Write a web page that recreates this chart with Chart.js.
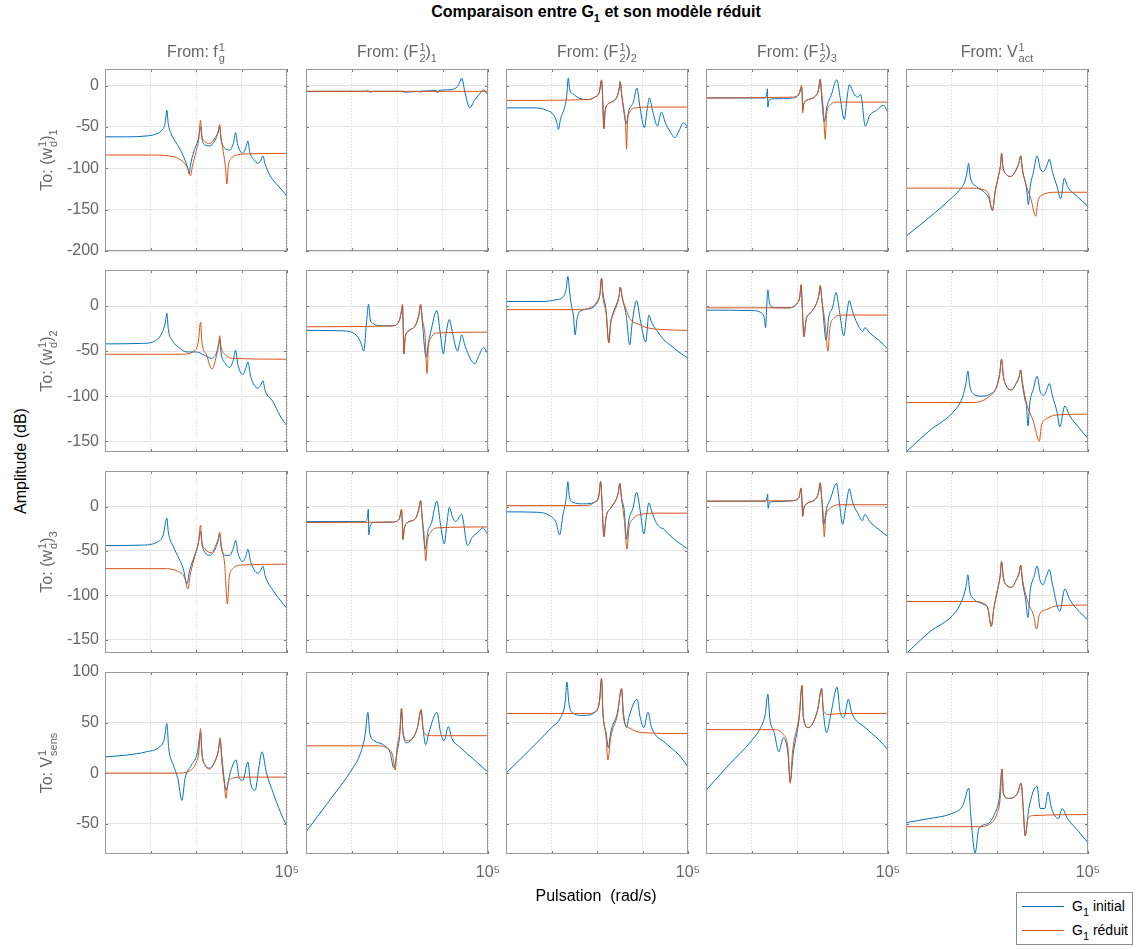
<!DOCTYPE html>
<html>
<head>
<meta charset="utf-8">
<script src="https://cdn.jsdelivr.net/npm/chart.js@4.4.0/dist/chart.umd.min.js"></script>
<style>
body{margin:0;background:#fff;width:1139px;height:949px;position:relative;overflow:hidden;font-family:"Liberation Sans",Arial,Helvetica,sans-serif;}
canvas{position:absolute}
.txt{position:absolute;white-space:nowrap;font-size:16px;line-height:20px;color:#666}
.ss{display:inline-block;vertical-align:-5px;font-size:11px;line-height:11px;text-align:left;margin-left:1px}
.ss span{display:block}
sub{font-size:11px;vertical-align:-5px;line-height:0}
.leg{position:absolute;left:1016px;top:892px;width:115px;height:51px;border:1px solid #8c8c8c;background:#fff}
.legrow{position:absolute;left:0;font-size:14px;line-height:18px;color:#000}
.legline{position:absolute;left:5px;width:42px;height:0;border-top:1px solid}
</style>
</head>
<body>
<div id="root"></div>
<script>
// ---- labels ----
const fromLabels = [
  'From: f<span class="ss"><span>1</span><span>g</span></span>',
  'From: (F<span class="ss"><span>1</span><span>2</span></span>)<sub>1</sub>',
  'From: (F<span class="ss"><span>1</span><span>2</span></span>)<sub>2</sub>',
  'From: (F<span class="ss"><span>1</span><span>2</span></span>)<sub>3</sub>',
  'From: V<span class="ss"><span>1</span><span>act</span></span>'
];
const toLabels = [
  'To: (w<span class="ss"><span>1</span><span>d</span></span>)<sub>1</sub>',
  'To: (w<span class="ss"><span>1</span><span>d</span></span>)<sub>2</sub>',
  'To: (w<span class="ss"><span>1</span><span>d</span></span>)<sub>3</sub>',
  'To: V<span class="ss"><span>1</span><span>sens</span></span>'
];
const yMin = [-200, -162, -165, -80];
const yMax = [20, 40, 40, 100];
const yStep = 50;
const xTicks = [1e1, 1e2, 1e3, 1e4, 1e5];
const xTickLabels = {100000: '10\u2075'};

// ---- data: [log10(w), dB] ----
// row 1 : (w_d^1)_1
const ini_r1c1 = [[1,-62],[1.5,-62],[1.9,-61],[2.1,-59],[2.25,-54],[2.32,-46],[2.36,-30],[2.39,-46],[2.45,-58],[2.55,-68],[2.65,-77],[2.75,-89],[2.82,-100],[2.85,-107],[2.88,-96],[2.95,-80],[3.02,-70],[3.06,-62],[3.10,-50],[3.13,-64],[3.2,-72],[3.3,-73],[3.42,-66],[3.49,-56],[3.52,-50],[3.55,-65],[3.62,-75],[3.74,-78],[3.82,-70],[3.87,-57],[3.91,-70],[4.03,-82],[4.1,-74],[4.14,-67],[4.18,-80],[4.28,-90],[4.36,-94],[4.42,-91],[4.47,-85],[4.52,-95],[4.62,-108],[4.75,-118],[4.9,-127],[5,-134]];
const red_r1c1 = [[1,-84],[2,-84],[2.4,-85],[2.6,-88],[2.75,-94],[2.84,-103],[2.88,-109],[2.92,-98],[3.0,-80],[3.06,-65],[3.10,-42],[3.13,-60],[3.2,-68],[3.3,-70],[3.42,-63],[3.49,-55],[3.52,-47],[3.55,-63],[3.6,-80],[3.65,-100],[3.68,-119],[3.71,-98],[3.78,-88],[3.9,-84],[4.2,-82.5],[5,-82]];
const ini_r1c2 = [[1,-7],[2.3,-7],[2.37,-6],[2.4,-8],[2.5,-7],[3.1,-7],[3.12,-6.5],[3.14,-8],[3.5,-7],[3.87,-6],[3.89,-9],[3.92,-6],[4.18,-5],[4.33,-1],[4.38,4],[4.42,9],[4.5,-10],[4.6,-27],[4.7,-18],[4.82,-10],[4.9,-5],[5,-12]];
const red_r1c2 = [[1,-7],[3.5,-7],[3.52,-8.5],[3.54,-7],[5,-7]];
const ini_r1c3 = [[1,-27],[1.6,-27],[1.9,-30],[2.05,-36],[2.12,-45],[2.15,-53],[2.2,-40],[2.28,-28],[2.33,-15],[2.37,9],[2.4,-5],[2.47,-10],[2.6,-15],[2.8,-17],[2.95,-14],[3.05,-8],[3.10,6],[3.12,-10],[3.15,-52],[3.18,-30],[3.25,-22],[3.38,-18],[3.45,-12],[3.49,-3],[3.51,4],[3.55,-15],[3.6,-35],[3.64,-46],[3.7,-30],[3.8,-20],[3.875,-3],[3.95,-28],[4.04,-51],[4.1,-30],[4.15,-15],[4.22,-30],[4.33,-49],[4.38,-38],[4.42,-32],[4.5,-45],[4.6,-55],[4.71,-63],[4.8,-55],[4.9,-45],[5,-51]];
const red_r1c3 = [[1,-18],[2.8,-17],[2.95,-14],[3.05,-8],[3.10,7],[3.12,-10],[3.15,-52],[3.18,-30],[3.25,-22],[3.38,-18],[3.45,-12],[3.49,-3],[3.51,5],[3.54,-10],[3.59,-28],[3.63,-48],[3.65,-77],[3.67,-45],[3.72,-32],[3.85,-27],[4.2,-26],[5,-26]];
const ini_r1c4 = [[1,-15],[2.3,-15],[2.34,-8],[2.35,-4],[2.36,-26],[2.38,-18],[2.5,-16],[2.9,-15],[3.05,-10],[3.10,-2],[3.115,-12],[3.125,-30],[3.15,-22],[3.25,-17],[3.4,-13],[3.47,-6],[3.51,7],[3.55,-20],[3.60,-44],[3.66,-25],[3.75,-12],[3.875,7],[3.95,-15],[4.04,-41],[4.1,-15],[4.15,1],[4.25,-10],[4.33,-14],[4.40,-11],[4.50,-49],[4.6,-36],[4.75,-30],[4.9,-24],[5,-33]];
const red_r1c4 = [[1,-15],[2.9,-14],[3.05,-9],[3.10,0],[3.115,-12],[3.125,-33],[3.15,-22],[3.25,-17],[3.4,-13],[3.47,-6],[3.51,8],[3.54,-8],[3.58,-30],[3.62,-65],[3.65,-35],[3.72,-24],[3.9,-20],[5,-20]];
const ini_r1c5 = [[1,-182],[1.5,-160],[2.0,-136],[2.18,-126],[2.3,-115],[2.35,-102],[2.375,-94],[2.41,-110],[2.55,-122],[2.7,-128],[2.82,-136],[2.9,-151],[2.96,-128],[3.03,-110],[3.08,-95],[3.10,-82],[3.13,-98],[3.2,-107],[3.3,-110],[3.42,-102],[3.49,-92],[3.52,-85],[3.56,-102],[3.65,-125],[3.69,-144],[3.73,-122],[3.8,-105],[3.88,-85],[3.95,-100],[4.02,-104],[4.1,-96],[4.15,-89],[4.22,-105],[4.32,-122],[4.40,-137],[4.48,-112],[4.55,-122],[4.76,-134],[5,-146]];
const red_r1c5 = [[1,-124],[2.4,-124],[2.7,-126],[2.82,-132],[2.9,-151],[2.96,-128],[3.03,-110],[3.08,-95],[3.10,-82],[3.13,-98],[3.2,-107],[3.3,-110],[3.42,-102],[3.49,-92],[3.52,-85],[3.56,-102],[3.65,-122],[3.75,-138],[3.85,-158],[3.9,-140],[4.0,-132],[4.3,-129],[5,-129]];
// row 2 : (w_d^1)_2
const ini_r2c1 = [[1,-42],[1.8,-41.5],[2.13,-38],[2.25,-30],[2.32,-20],[2.36,-8],[2.39,-25],[2.49,-39],[2.65,-47],[2.79,-51],[3.01,-51],[3.2,-55],[3.34,-58],[3.45,-52],[3.50,-42],[3.52,-37],[3.55,-52],[3.65,-64],[3.74,-68],[3.82,-60],[3.87,-49],[3.92,-65],[4.03,-76],[4.1,-68],[4.14,-62],[4.2,-78],[4.36,-91],[4.42,-88],[4.47,-83],[4.52,-94],[4.69,-106],[4.85,-122],[5,-133]];
const red_r2c1 = [[1,-53.5],[2.7,-53.5],[2.95,-50],[3.05,-40],[3.10,-18],[3.13,-40],[3.23,-54],[3.35,-70],[3.45,-55],[3.50,-42],[3.52,-33],[3.55,-45],[3.67,-55],[3.8,-58],[5,-59]];
const ini_r2c2 = [[1,-27],[1.8,-27.5],[2.1,-32],[2.2,-40],[2.27,-50],[2.32,-25],[2.375,2],[2.41,-14],[2.46,-19],[2.7,-22],[2.9,-22],[3.05,-16],[3.1,-5],[3.12,1],[3.135,-20],[3.15,-53],[3.18,-35],[3.23,-29],[3.41,-21],[3.48,-10],[3.52,1],[3.56,-20],[3.64,-57],[3.7,-38],[3.74,-29],[3.875,-5],[3.95,-30],[4.02,-53],[4.08,-30],[4.15,-15],[4.22,-30],[4.33,-50],[4.38,-40],[4.42,-32],[4.5,-45],[4.71,-64],[4.8,-55],[4.9,-46],[5,-53]];
const red_r2c2 = [[1,-23],[2.9,-22],[3.05,-16],[3.1,-5],[3.12,2],[3.135,-20],[3.15,-53],[3.18,-35],[3.23,-29],[3.41,-21],[3.48,-10],[3.52,2],[3.56,-15],[3.62,-35],[3.66,-75],[3.69,-45],[3.74,-36],[3.85,-30],[5,-29]];
const ini_r2c3 = [[1,5],[1.8,5],[2.1,7],[2.25,10],[2.32,18],[2.36,33],[2.39,20],[2.43,3],[2.48,-10],[2.52,-32],[2.56,-15],[2.62,-6],[2.84,-3],[2.98,2],[3.06,12],[3.10,31],[3.13,15],[3.2,-5],[3.26,-41],[3.3,-18],[3.35,-8],[3.45,5],[3.49,13],[3.51,21],[3.56,8],[3.64,-10],[3.72,-43],[3.77,-20],[3.87,6],[3.95,-15],[4.07,-40],[4.14,-10],[4.2,-18],[4.31,-27],[4.4,-33],[4.46,-37],[4.6,-43],[4.8,-51],[5,-58]];
const red_r2c3 = [[1,-4],[2.6,-4],[2.84,-2],[3.0,5],[3.07,15],[3.10,31],[3.13,10],[3.2,-8],[3.26,-41],[3.3,-20],[3.35,-10],[3.45,3],[3.49,12],[3.51,21],[3.56,8],[3.65,-5],[3.72,-14],[3.9,-20],[4.1,-24],[4.4,-26],[5,-27]];
const ini_r2c4 = [[1,-4.5],[2.0,-5],[2.2,-7],[2.28,-13],[2.31,-24],[2.335,0],[2.36,18],[2.39,5],[2.45,-1],[2.6,-2],[2.8,-2],[3.0,3],[3.06,10],[3.09,23],[3.12,-5],[3.15,-34],[3.2,-15],[3.29,-8],[3.42,2],[3.48,12],[3.51,22],[3.56,0],[3.64,-38],[3.7,-12],[3.78,-2],[3.86,15],[3.93,-5],[4.03,-33],[4.09,-10],[4.15,6],[4.22,-6],[4.32,-19],[4.45,-28],[4.49,-24],[4.6,-30],[4.8,-38],[5,-48]];
const red_r2c4 = [[1,-2],[2.8,-2],[3.0,3],[3.06,10],[3.09,24],[3.12,-5],[3.15,-34],[3.2,-15],[3.29,-8],[3.42,2],[3.48,12],[3.51,23],[3.55,5],[3.62,-20],[3.68,-50],[3.72,-25],[3.8,-14],[4.0,-10],[5,-10]];
const ini_r2c5 = [[1,-162],[1.5,-139],[2.10,-114],[2.25,-100],[2.32,-85],[2.36,-72],[2.4,-88],[2.47,-97],[2.65,-100],[2.84,-98],[2.99,-90],[3.06,-75],[3.10,-59],[3.14,-78],[3.22,-90],[3.32,-93],[3.42,-86],[3.49,-78],[3.52,-71],[3.56,-88],[3.62,-105],[3.65,-112],[3.68,-133],[3.72,-108],[3.8,-92],[3.88,-78],[3.95,-95],[4.03,-99],[4.1,-92],[4.15,-86],[4.22,-100],[4.32,-118],[4.38,-134],[4.49,-111],[4.6,-122],[4.8,-135],[5,-147]];
const red_r2c5 = [[1,-107],[2.5,-107],[2.84,-100],[2.99,-90],[3.06,-75],[3.10,-59],[3.14,-78],[3.22,-90],[3.32,-93],[3.42,-86],[3.49,-78],[3.52,-71],[3.56,-85],[3.65,-108],[3.8,-128],[3.93,-150],[3.98,-132],[4.09,-125],[4.3,-121],[5,-120]];
// row 3 : (w_d^1)_3
const ini_r3c1 = [[1,-44],[1.8,-43.5],[2.15,-40],[2.28,-32],[2.36,-13],[2.39,-28],[2.5,-45],[2.62,-58],[2.72,-70],[2.80,-87],[2.86,-72],[2.95,-58],[3.05,-42],[3.10,-28],[3.13,-42],[3.2,-52],[3.3,-55],[3.42,-48],[3.49,-38],[3.52,-31],[3.55,-45],[3.65,-55],[3.74,-55],[3.82,-47],[3.87,-38],[3.92,-52],[4.03,-62],[4.1,-55],[4.14,-48],[4.2,-62],[4.36,-75],[4.42,-72],[4.47,-67],[4.52,-78],[4.7,-95],[5,-115]];
const red_r3c1 = [[1,-70],[2.3,-70],[2.6,-73],[2.75,-80],[2.82,-93],[2.88,-75],[2.98,-55],[3.06,-38],[3.10,-21],[3.13,-40],[3.2,-48],[3.34,-52],[3.44,-43],[3.49,-36],[3.52,-29],[3.56,-45],[3.63,-65],[3.69,-110],[3.73,-80],[3.81,-70],[4.0,-66],[5,-65]];
const ini_r3c2 = [[1,-17],[2.3,-17],[2.35,-12],[2.37,-3],[2.38,-32],[2.41,-22],[2.5,-18],[2.9,-17.5],[3.05,-14],[3.10,-4],[3.115,-15],[3.13,-37],[3.16,-25],[3.23,-18],[3.4,-14],[3.47,-5],[3.52,6],[3.56,-18],[3.62,-48],[3.68,-28],[3.76,-18],[3.875,6],[3.95,-18],[4.04,-42],[4.1,-18],[4.15,-1],[4.22,-12],[4.29,-17],[4.42,-9],[4.55,-44],[4.65,-35],[4.8,-28],[4.88,-24],[5,-32]];
const red_r3c2 = [[1,-18],[2.9,-17.5],[3.05,-14],[3.10,-3],[3.115,-15],[3.13,-37],[3.16,-25],[3.23,-18],[3.4,-14],[3.47,-5],[3.52,7],[3.55,-10],[3.6,-35],[3.63,-61],[3.67,-38],[3.74,-29],[3.9,-24],[5,-23]];
const ini_r3c3 = [[1,-6],[1.7,-6.5],[1.95,-10],[2.1,-18],[2.18,-32],[2.25,-10],[2.32,8],[2.36,28],[2.39,12],[2.46,5],[2.7,3],[2.95,5],[3.04,12],[3.08,28],[3.11,5],[3.15,-34],[3.2,-12],[3.3,-2],[3.42,8],[3.47,16],[3.50,26],[3.54,10],[3.6,-5],[3.65,-37],[3.7,-15],[3.79,-2],[3.87,16],[3.95,-5],[4.03,-31],[4.09,-10],[4.14,4],[4.2,-5],[4.31,-19],[4.4,-24],[4.46,-25],[4.55,-30],[4.75,-39],[5,-48]];
const red_r3c3 = [[1,1],[2.7,1],[2.95,5],[3.04,12],[3.08,28],[3.11,5],[3.15,-34],[3.2,-12],[3.3,-2],[3.42,8],[3.47,16],[3.50,26],[3.54,8],[3.6,-15],[3.66,-48],[3.7,-25],[3.79,-14],[3.95,-9],[4.3,-7.5],[5,-7.5]];
const ini_r3c4 = [[1,6],[2.3,6],[2.34,10],[2.355,14],[2.365,-2],[2.39,4],[2.5,5.5],[2.9,6.5],[3.04,10],[3.09,20],[3.11,5],[3.125,-11],[3.15,-2],[3.21,3],[3.4,8],[3.47,15],[3.51,26],[3.55,5],[3.58,-21],[3.65,-2],[3.73,8],[3.87,26],[3.93,5],[4.00,-20],[4.08,2],[4.15,20],[4.22,5],[4.33,-7],[4.44,-16],[4.49,-9],[4.6,-17],[4.8,-26],[5,-34]];
const red_r3c4 = [[1,6],[2.9,6.5],[3.04,10],[3.09,21],[3.11,5],[3.125,-11],[3.15,-2],[3.21,3],[3.4,8],[3.47,15],[3.51,27],[3.54,10],[3.57,-5],[3.60,-34],[3.63,-12],[3.73,-2],[3.9,2],[5,2]];
const ini_r3c5 = [[1,-166],[1.5,-142],[2.10,-118],[2.25,-103],[2.32,-90],[2.36,-77],[2.4,-95],[2.47,-103],[2.69,-110],[2.8,-115],[2.875,-135],[2.93,-115],[3.02,-92],[3.07,-78],[3.10,-62],[3.14,-80],[3.22,-89],[3.32,-91],[3.42,-83],[3.49,-74],[3.52,-66],[3.56,-85],[3.63,-105],[3.68,-125],[3.73,-95],[3.82,-78],[3.88,-67],[3.95,-84],[4.01,-88],[4.09,-78],[4.15,-71],[4.22,-88],[4.38,-118],[4.49,-93],[4.6,-105],[4.8,-118],[5,-128]];
const red_r3c5 = [[1,-107],[2.5,-107],[2.7,-109],[2.8,-115],[2.875,-135],[2.93,-115],[3.02,-92],[3.07,-78],[3.10,-62],[3.14,-80],[3.22,-89],[3.32,-91],[3.42,-83],[3.49,-74],[3.52,-66],[3.56,-82],[3.68,-108],[3.8,-122],[3.87,-138],[3.93,-122],[4.09,-116],[4.3,-112],[5,-111]];
// row 4 : V_sens^1
const ini_r4c1 = [[1,16],[1.5,18],[1.9,21],[2.2,26],[2.3,33],[2.36,49],[2.4,25],[2.5,8],[2.6,-5],[2.69,-27],[2.76,-5],[2.9,8],[3.03,20],[3.10,40],[3.13,20],[3.2,8],[3.3,5],[3.42,12],[3.49,22],[3.53,33],[3.57,15],[3.63,-10],[3.66,-17],[3.75,0],[3.88,13],[3.95,-5],[4.03,-7],[4.14,11],[4.2,-10],[4.3,-17],[4.38,5],[4.45,21],[4.55,0],[4.7,-20],[4.85,-38],[5,-53]];
const red_r4c1 = [[1,0],[2.6,0],[2.85,2],[3.0,10],[3.06,20],[3.10,44],[3.13,20],[3.2,8],[3.3,4],[3.42,12],[3.49,22],[3.53,35],[3.57,10],[3.62,-10],[3.66,-25],[3.7,-10],[3.8,-5],[4.0,-4],[5,-4]];
const ini_r4c2 = [[1,-58],[1.5,-28],[2.0,3],[2.2,20],[2.3,38],[2.36,60],[2.4,40],[2.5,32],[2.7,28],[2.85,20],[2.93,5],[3.0,20],[3.06,38],[3.10,64],[3.13,40],[3.22,30],[3.35,35],[3.45,45],[3.53,62],[3.57,45],[3.63,28],[3.7,40],[3.88,60],[3.95,42],[4.03,32],[4.13,46],[4.2,35],[4.4,25],[4.7,13],[5,1]];
const red_r4c2 = [[1,27],[2.6,27],[2.8,24],[2.9,18],[2.96,3],[3.0,25],[3.06,40],[3.10,64],[3.13,42],[3.22,32],[3.35,35],[3.45,45],[3.53,63],[3.57,45],[3.63,38],[3.8,37],[5,37]];
const ini_r4c3 = [[1,0],[1.5,22],[2.0,45],[2.2,55],[2.3,70],[2.34,90],[2.38,70],[2.45,60],[2.7,57],[2.95,60],[3.05,70],[3.10,93],[3.13,60],[3.2,40],[3.25,25],[3.3,40],[3.45,60],[3.54,83],[3.58,60],[3.65,45],[3.7,55],[3.88,73],[3.95,55],[4.03,45],[4.12,60],[4.2,45],[4.5,30],[4.8,18],[5,6]];
const red_r4c3 = [[1,59],[2.8,59],[3.0,63],[3.06,72],[3.10,94],[3.13,60],[3.2,35],[3.24,13],[3.3,35],[3.45,58],[3.54,84],[3.58,55],[3.7,45],[4.0,40],[5,39]];
const ini_r4c4 = [[1,-17],[1.5,8],[2.0,32],[2.2,45],[2.3,58],[2.36,78],[2.4,55],[2.5,40],[2.6,21],[2.7,35],[2.8,20],[2.85,-8],[2.92,20],[3.05,55],[3.11,86],[3.14,55],[3.25,45],[3.45,62],[3.54,84],[3.58,60],[3.65,40],[3.75,60],[3.88,85],[3.95,60],[4.03,55],[4.13,73],[4.2,60],[4.5,45],[4.8,33],[5,23]];
const red_r4c4 = [[1,43],[2.5,43],[2.7,38],[2.8,25],[2.85,-10],[2.9,20],[3.05,58],[3.11,87],[3.14,55],[3.25,45],[3.45,62],[3.54,83],[3.58,62],[3.7,58],[4,59],[5,59]];
const ini_r4c5 = [[1,-49],[1.5,-45],[2.0,-40],[2.25,-32],[2.38,-15],[2.42,-40],[2.52,-79],[2.6,-55],[2.8,-50],[2.95,-40],[3.05,-25],[3.11,4],[3.14,-20],[3.25,-25],[3.45,-20],[3.53,-10],[3.57,-30],[3.62,-62],[3.7,-35],[3.88,-13],[3.95,-35],[4.05,-35],[4.12,-19],[4.2,-35],[4.35,-45],[4.43,-35],[4.55,-45],[4.8,-58],[5,-69]];
const red_r4c5 = [[1,-53],[2.6,-53],[2.85,-50],[3.0,-40],[3.07,-25],[3.11,4],[3.14,-20],[3.25,-25],[3.45,-20],[3.53,-10],[3.57,-30],[3.62,-62],[3.68,-45],[3.8,-42],[5,-41]];

const initial = [
  [ini_r1c1, ini_r1c2, ini_r1c3, ini_r1c4, ini_r1c5],
  [ini_r2c1, ini_r2c2, ini_r2c3, ini_r2c4, ini_r2c5],
  [ini_r3c1, ini_r3c2, ini_r3c3, ini_r3c4, ini_r3c5],
  [ini_r4c1, ini_r4c2, ini_r4c3, ini_r4c4, ini_r4c5]
];
const reduced = [
  [red_r1c1, red_r1c2, red_r1c3, red_r1c4, red_r1c5],
  [red_r2c1, red_r2c2, red_r2c3, red_r2c4, red_r2c5],
  [red_r3c1, red_r3c2, red_r3c3, red_r3c4, red_r3c5],
  [red_r4c1, red_r4c2, red_r4c3, red_r4c4, red_r4c5]
];

// ---- layout ----
const colLeft = [105, 306, 506, 706, 906];
const rowTop = [69, 270, 471, 672];
const PW = 182, PH = 182;
const PADL = 60, PADT = 20, PADR = 30, PADB = 30;
const BLUE = '#0072BD', ORANGE = '#D95319';
const GRAY = '#666';
const FONT = '"Liberation Sans", Arial, sans-serif';

const root = document.getElementById('root');

function addText(html, css) {
  const d = document.createElement('div');
  d.className = 'txt';
  d.innerHTML = html;
  Object.assign(d.style, css);
  root.appendChild(d);
  return d;
}

const toXY = pts => pts.map(p => ({x: Math.pow(10, p[0]), y: p[1]}));

// box + small inner ticks like matlab axes
const boxPlugin = {
  id: 'box',
  afterDraw(chart) {
    const {ctx, chartArea: a, scales} = chart;
    ctx.save();
    ctx.lineWidth = 1;
    ctx.strokeStyle = '#7a7a7a';
    ctx.beginPath();
    scales.y.ticks.forEach(t => {
      const y = Math.round(scales.y.getPixelForValue(t.value)) + 0.5;
      ctx.moveTo(a.left, y); ctx.lineTo(a.left + 3, y);
      ctx.moveTo(a.right, y); ctx.lineTo(a.right - 3, y);
    });
    scales.x.ticks.forEach(t => {
      const x = Math.round(scales.x.getPixelForValue(t.value)) + 0.5;
      ctx.moveTo(x, a.top); ctx.lineTo(x, a.top + 3);
      ctx.moveTo(x, a.bottom); ctx.lineTo(x, a.bottom - 3);
    });
    ctx.stroke();
    ctx.strokeStyle = '#9a9a9a';
    ctx.strokeRect(Math.round(a.left) + 0.5, Math.round(a.top) + 0.5, Math.round(a.width) - 1, Math.round(a.height) - 1);
    ctx.restore();
  }
};

function makePanel(r, c) {
  const cv = document.createElement('canvas');
  cv.width = PW + PADL + PADR;
  cv.height = PH + PADT + PADB;
  cv.style.left = (colLeft[c] - PADL) + 'px';
  cv.style.top = (rowTop[r] - PADT) + 'px';
  root.appendChild(cv);

  new Chart(cv, {
    type: 'line',
    data: {
      datasets: [
        {label: 'G1 réduit', data: toXY(reduced[r][c]), borderColor: ORANGE},
        {label: 'G1 initial', data: toXY(initial[r][c]), borderColor: BLUE}
      ]
    },
    options: {
      responsive: false,
      animation: false,
      events: [],
      layout: {padding: {top: PADT, right: PADR, left: 0, bottom: 0}},
      plugins: {legend: {display: false}, tooltip: {enabled: false}},
      elements: {point: {radius: 0}, line: {borderWidth: 1, cubicInterpolationMode: 'monotone'}},
      scales: {
        x: {
          type: 'logarithmic',
          min: 10, max: 1e5,
          afterBuildTicks: s => { s.ticks = xTicks.map(v => ({value: v})); },
          afterFit: s => { s.height = PADB; },
          grid: {color: '#d4d4d4', drawTicks: false},
          border: {display: false, dash: [1, 2]},
          ticks: {
            display: r === 3,
            autoSkip: false, maxRotation: 0, padding: 9,
            color: GRAY, font: {size: 16, family: FONT},
            callback: v => xTickLabels[v] || ''
          }
        },
        y: {
          min: yMin[r], max: yMax[r],
          afterBuildTicks: s => {
            const t = [];
            for (let v = Math.ceil(yMin[r] / yStep) * yStep; v <= yMax[r]; v += yStep) t.push({value: v});
            s.ticks = t;
          },
          afterFit: s => { s.width = PADL; },
          grid: {color: '#e3e3e3', drawTicks: false},
          border: {display: false},
          ticks: {
            display: c === 0,
            padding: 6,
            color: GRAY, font: {size: 16, family: FONT}
          }
        }
      }
    },
    plugins: [boxPlugin]
  });
}

for (let r = 0; r < 4; r++) {
  for (let c = 0; c < 5; c++) makePanel(r, c);
}

// column titles
fromLabels.forEach((t, c) => {
  addText(t, {left: (colLeft[c] + PW / 2) + 'px', top: '42px', transform: 'translateX(-50%)'});
});
// row titles
toLabels.forEach((t, r) => {
  addText(t, {left: '48px', top: (rowTop[r] + PH / 2) + 'px', transform: 'translate(-50%,-50%) rotate(-90deg)'});
});
// main title and axis titles
addText('Comparaison entre G<sub>1</sub> et son modèle réduit',
  {left: '596px', top: '2px', transform: 'translateX(-50%)', color: '#000', fontWeight: 'bold'});
addText('Amplitude (dB)', {left: '21px', top: '461px', transform: 'translate(-50%,-50%) rotate(-90deg)', color: '#000'});
addText('Pulsation&nbsp; (rad/s)', {left: '596px', top: '886px', transform: 'translateX(-50%)', color: '#000'});

// legend
const leg = document.createElement('div');
leg.className = 'leg';
leg.innerHTML =
  '<div class="legline" style="top:13px;border-color:' + BLUE + '"></div>' +
  '<div class="legrow" style="left:55px;top:4px">G<sub>1</sub> initial</div>' +
  '<div class="legline" style="top:37px;border-color:' + ORANGE + '"></div>' +
  '<div class="legrow" style="left:55px;top:28px">G<sub>1</sub> réduit</div>';
root.appendChild(leg);
</script>
</body>
</html>
